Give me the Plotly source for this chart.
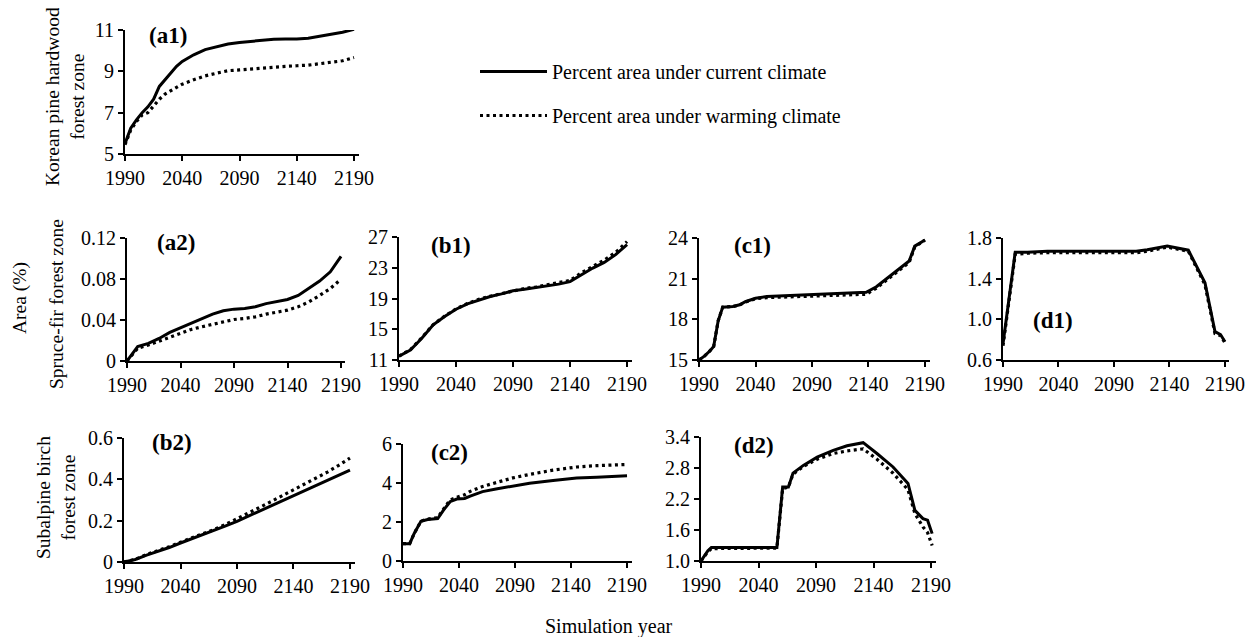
import plotly.graph_objects as go

W, H = 1257, 637
OFF = 8  # page body margin offset of the rendered figure
FONT = "Liberation Serif, Times New Roman, serif"

# ---------------- data ----------------
a1_years = [1990, 1995, 2000, 2005, 2010, 2015, 2020, 2025, 2030, 2035, 2040, 2050, 2060,
            2070, 2080, 2090, 2100, 2110, 2120, 2130, 2140, 2150, 2160, 2170, 2180, 2190]
a1_current = [5.5, 6.25, 6.65, 7.0, 7.28, 7.65, 8.27, 8.6, 8.91, 9.24, 9.48, 9.8, 10.05,
              10.2, 10.32, 10.4, 10.45, 10.5, 10.55, 10.56, 10.56, 10.6, 10.69, 10.79, 10.89, 11.03]
a1_warming = [5.45, 6.16, 6.57, 6.89, 7.0, 7.33, 7.65, 7.9, 8.07, 8.23, 8.38, 8.59, 8.78,
              8.91, 9.03, 9.07, 9.12, 9.17, 9.2, 9.24, 9.27, 9.3, 9.37, 9.43, 9.51, 9.67]

decade_years = [1990, 2000, 2010, 2020, 2030, 2040, 2050, 2060, 2070, 2080, 2090,
                2100, 2110, 2120, 2130, 2140, 2150, 2160, 2170, 2180, 2190]

a2_current = [0, 0.014, 0.0172, 0.022, 0.0279, 0.0324, 0.0367, 0.0415, 0.0457, 0.049, 0.0506,
              0.0512, 0.053, 0.056, 0.058, 0.060, 0.064, 0.071, 0.078, 0.087, 0.102]
a2_warming = [0, 0.0123, 0.0156, 0.0195, 0.0237, 0.0276, 0.0308, 0.0334, 0.036, 0.0383, 0.0405,
              0.0415, 0.0431, 0.0457, 0.0474, 0.0496, 0.0529, 0.0577, 0.064, 0.0707, 0.0798]

b1_current = [11.5, 12.3, 13.83, 15.57, 16.65, 17.6, 18.3, 18.83, 19.26, 19.6, 20.0,
              20.2, 20.43, 20.65, 20.87, 21.2, 22.1, 22.96, 23.7, 24.7, 26.0]
b1_warming = [11.5, 12.35, 13.9, 15.6, 16.7, 17.65, 18.35, 18.9, 19.3, 19.65, 20.05,
              20.3, 20.5, 20.75, 21.0, 21.35, 22.35, 23.2, 24.0, 25.0, 26.4]

c1_years = [1990, 1995, 2000, 2003, 2007, 2011, 2020, 2026, 2031, 2040, 2050, 2070, 2100,
            2120, 2138, 2147, 2162, 2176, 2181, 2190]
c1_current = [15.0, 15.3, 15.7, 16.0, 17.9, 18.9, 18.95, 19.07, 19.3, 19.55, 19.68, 19.75, 19.82,
              19.9, 20.0, 20.4, 21.4, 22.3, 23.4, 23.85]
c1_warming = [15.0, 15.3, 15.7, 16.0, 17.9, 18.9, 18.95, 19.05, 19.28, 19.52, 19.6, 19.65, 19.7,
              19.75, 19.85, 20.3, 21.3, 22.2, 23.35, 23.85]

d1_years = [1990, 2001, 2012, 2030, 2110, 2120, 2138, 2157, 2172, 2181, 2186, 2190]
d1_current = [0.76, 1.66, 1.66, 1.67, 1.67, 1.685, 1.72, 1.68, 1.36, 0.88, 0.85, 0.78]
d1_warming = [0.74, 1.64, 1.65, 1.655, 1.655, 1.67, 1.71, 1.67, 1.34, 0.86, 0.84, 0.77]

b2_current = [0, 0.012, 0.033, 0.05, 0.07, 0.092, 0.112, 0.132, 0.153, 0.175, 0.197,
              0.222, 0.247, 0.272, 0.297, 0.322, 0.347, 0.372, 0.396, 0.42, 0.444]
b2_warming = [0, 0.013, 0.036, 0.054, 0.074, 0.096, 0.116, 0.136, 0.158, 0.182, 0.208,
              0.236, 0.264, 0.292, 0.32, 0.347, 0.375, 0.403, 0.435, 0.468, 0.503]

c2_years = [1990, 1996, 2000, 2006, 2012, 2021, 2026, 2032, 2038, 2045, 2050, 2061, 2073,
            2088, 2103, 2124, 2145, 2163, 2190]
c2_current = [0.89, 0.89, 1.41, 2.04, 2.13, 2.18, 2.6, 3.04, 3.18, 3.21, 3.33, 3.56, 3.69,
              3.85, 3.99, 4.13, 4.25, 4.3, 4.37]
c2_warming = [0.89, 0.89, 1.41, 2.04, 2.15, 2.22, 2.65, 3.13, 3.26, 3.4, 3.57, 3.82, 4.02,
              4.26, 4.44, 4.66, 4.82, 4.89, 4.95]

d2_years = [1990, 1996, 1999, 2056, 2061, 2066, 2070, 2079, 2091, 2105, 2117, 2131, 2143,
            2157, 2170, 2176, 2183, 2187, 2191]
d2_current = [1.0, 1.2, 1.26, 1.26, 2.43, 2.43, 2.7, 2.85, 3.01, 3.14, 3.23, 3.29, 3.08,
              2.82, 2.5, 1.98, 1.82, 1.79, 1.53]
d2_warming = [1.0, 1.18, 1.24, 1.25, 2.4, 2.43, 2.68, 2.83, 2.97, 3.08, 3.13, 3.17, 2.97,
              2.7, 2.38, 1.92, 1.66, 1.55, 1.3]

x_ticks = [1990, 2040, 2090, 2140, 2190]


def fx(px):
    return (px - OFF) / W


def fy(py):
    return 1 - (py - OFF) / H


# (label, years, current, warming, yticks, yticklabels, x-pixel domain, y-pixel domain(top,bottom), label pos)
panels = [
    ("(a1)", a1_years, a1_current, a1_warming, [5, 7, 9, 11], ["5", "7", "9", "11"],
     (125, 358.6), (30, 154), (168, 36)),
    ("(a2)", decade_years, a2_current, a2_warming, [0, 0.04, 0.08, 0.12], ["0", "0.04", "0.08", "0.12"],
     (127, 345.3), (238, 361), (176, 243)),
    ("(b1)", decade_years, b1_current, b1_warming, [11, 15, 19, 23, 27], ["11", "15", "19", "23", "27"],
     (399, 631.6), (237, 360), (451, 245)),
    ("(c1)", c1_years, c1_current, c1_warming, [15, 18, 21, 24], ["15", "18", "21", "24"],
     (699, 929.5), (238, 360), (752, 245)),
    ("(d1)", d1_years, d1_current, d1_warming, [0.6, 1.0, 1.4, 1.8], ["0.6", "1.0", "1.4", "1.8"],
     (1003, 1229.4), (238, 360), (1053, 320)),
    ("(b2)", decade_years, b2_current, b2_warming, [0, 0.2, 0.4, 0.6], ["0", "0.2", "0.4", "0.6"],
     (124, 354.5), (438, 562), (172, 442)),
    ("(c2)", c2_years, c2_current, c2_warming, [0, 2, 4, 6], ["0", "2", "4", "6"],
     (403, 631.5), (444, 561), (449, 452)),
    ("(d2)", d2_years, d2_current, d2_warming, [1.0, 1.6, 2.2, 2.8, 3.4], ["1.0", "1.6", "2.2", "2.8", "3.4"],
     (701, 935.6), (437, 561), (754, 445)),
]

fig = go.Figure()
annotations = []
layout_axes = {}

for i, (lab, yrs, cur, warm, yt, ytl, xd, yd, lp) in enumerate(panels):
    n = i + 1
    xa = "x" if n == 1 else f"x{n}"
    ya = "y" if n == 1 else f"y{n}"
    fig.add_trace(go.Scatter(
        x=yrs, y=cur, mode="lines", xaxis=xa, yaxis=ya,
        line=dict(color="black", width=3),
        name="Percent area under current climate",
        legendgroup="cur", showlegend=(n == 1)))
    fig.add_trace(go.Scatter(
        x=yrs, y=warm, mode="lines", xaxis=xa, yaxis=ya,
        line=dict(color="black", width=3.2, dash="3px,3.5px"),
        name="Percent area under warming climate",
        legendgroup="warm", showlegend=(n == 1)))
    xkey = "xaxis" if n == 1 else f"xaxis{n}"
    ykey = "yaxis" if n == 1 else f"yaxis{n}"
    layout_axes[xkey] = dict(
        domain=[fx(xd[0]), fx(xd[1])], anchor=ya, range=[1990, 2194],
        tickvals=x_ticks, ticks="outside", ticklen=5, tickwidth=2, tickcolor="black",
        showline=True, linecolor="black", linewidth=2, showgrid=False, zeroline=False,
        automargin=False,
        tickfont=dict(family=FONT, size=20, color="black"))
    layout_axes[ykey] = dict(
        domain=[fy(yd[1]), fy(yd[0])], anchor=xa, range=[yt[0], yt[-1]],
        tickvals=yt, ticktext=ytl, ticks="outside", ticklen=5, tickwidth=2, tickcolor="black",
        showline=True, linecolor="black", linewidth=2, showgrid=False, zeroline=False,
        automargin=False,
        tickfont=dict(family=FONT, size=20, color="black"))
    annotations.append(dict(
        text=f"<b>{lab}</b>", x=fx(lp[0]), y=fy(lp[1]), xref="paper", yref="paper",
        showarrow=False, xanchor="center", yanchor="middle",
        font=dict(family=FONT, size=23, color="black")))

# axis titles
titles = [
    ("Korean pine hardwood<br>forest zone", 65, 97),
    ("Spruce-fir forest zone", 57, 304),
    ("Area (%)", 20, 298),
    ("Subalpine birch<br>forest zone", 56, 498),
]
for t, px, py in titles:
    annotations.append(dict(
        text=t, x=fx(px), y=fy(py), xref="paper", yref="paper", showarrow=False,
        textangle=-90, xanchor="center", yanchor="middle",
        font=dict(family=FONT, size=19.5, color="black")))
annotations.append(dict(
    text="Simulation year", x=fx(609), y=fy(626), xref="paper", yref="paper",
    showarrow=False, xanchor="center", yanchor="middle",
    font=dict(family=FONT, size=20, color="black")))

fig.update_layout(
    width=W, height=H, autosize=False,
    margin=dict(l=0, r=0, t=0, b=0, pad=0, autoexpand=False),
    paper_bgcolor="white", plot_bgcolor="white",
    showlegend=True,
    legend=dict(x=fx(475), y=fy(52), xanchor="left", yanchor="top",
                bgcolor="rgba(0,0,0,0)", font=dict(family=FONT, size=20, color="black"),
                itemwidth=67, traceorder="grouped", tracegroupgap=15),
    annotations=annotations,
    **layout_axes,
)

fig.write_html("out.html")
